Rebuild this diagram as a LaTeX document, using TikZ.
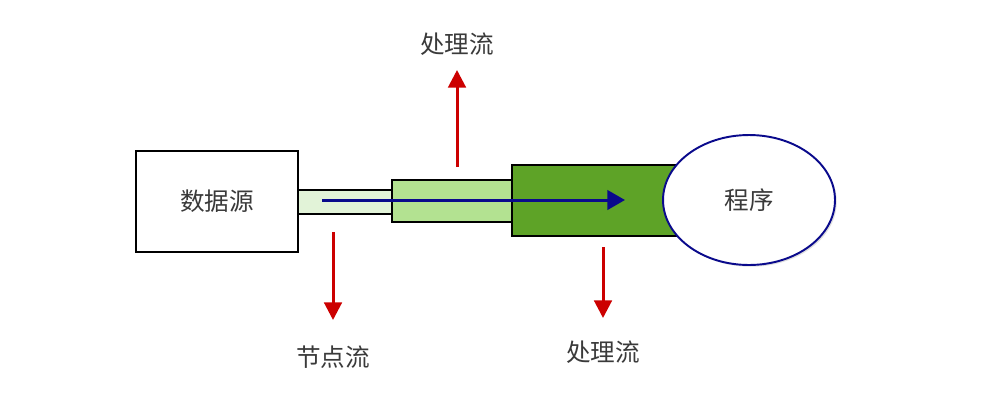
\documentclass[tikz,border=0pt]{standalone}
\usepackage{fontspec}
\setmainfont{Noto Sans CJK SC}
\usepackage{xcolor}
\usetikzlibrary{arrows.meta,shapes.geometric,shadows}

\definecolor{tubelight}{HTML}{E2F3D8}
\definecolor{tubemid}{HTML}{B3E291}
\definecolor{tubedark}{HTML}{5EA327}
\definecolor{flowred}{HTML}{CC0000}
\definecolor{flowblue}{HTML}{0A0A8C}
\definecolor{labelgray}{HTML}{3A3A3A}

\tikzset{
    box/.style={draw=black, line width=1.1pt, inner sep=0pt},
    label/.style={text=labelgray, font=\fontsize{14}{16}\selectfont},
    redflow/.style={draw=flowred, line width=1.7pt, -{Triangle[width=10pt,length=10pt]}},
    blueflow/.style={draw=flowblue, line width=1.7pt, -{Triangle[width=11pt,length=10pt]}}
}

\begin{document}
\begin{tikzpicture}[x=0.02cm, y=-0.02cm]
    \useasboundingbox (0,0) rectangle (989,413);

    \node[box, fill=white, minimum width=3.24cm, minimum height=2.02cm, label] (source) at (217,201.5) {数据源};

    \node[box, fill=tubelight, minimum width=1.88cm, minimum height=0.48cm] (thin) at (345,202) {};
    \node[box, fill=tubemid, minimum width=2.4cm, minimum height=0.84cm] (mid) at (452,201) {};
    \node[box, fill=tubedark, minimum width=3.56cm, minimum height=1.42cm] (dark) at (601,200.5) {};

    \node[ellipse, draw=flowblue, line width=1.1pt, fill=white, minimum width=3.44cm, minimum height=2.6cm,
          drop shadow={opacity=0.25, shadow xshift=1pt, shadow yshift=-1pt}, label] (program) at (749,200) {程序};

    % flow through the pipe
    \coordinate (flowstart) at (322,200);
    \coordinate (flowend) at (625,200);
    \draw[blueflow] (flowstart) -- (flowend);

    % side flows
    \coordinate (upstart) at (457,167);
    \coordinate (upend) at (457,70);
    \draw[redflow] (upstart) -- (upend);
    \node[label] (uplabel) at (457,44) {处理流};

    \coordinate (nodestart) at (333,232);
    \coordinate (nodeend) at (333,320);
    \draw[redflow] (nodestart) -- (nodeend);
    \node[label] (nodelabel) at (333,357) {节点流};

    \coordinate (downstart) at (603,247);
    \coordinate (downend) at (603,318);
    \draw[redflow] (downstart) -- (downend);
    \node[label] (downlabel) at (603,352) {处理流};
\end{tikzpicture}
\end{document}
